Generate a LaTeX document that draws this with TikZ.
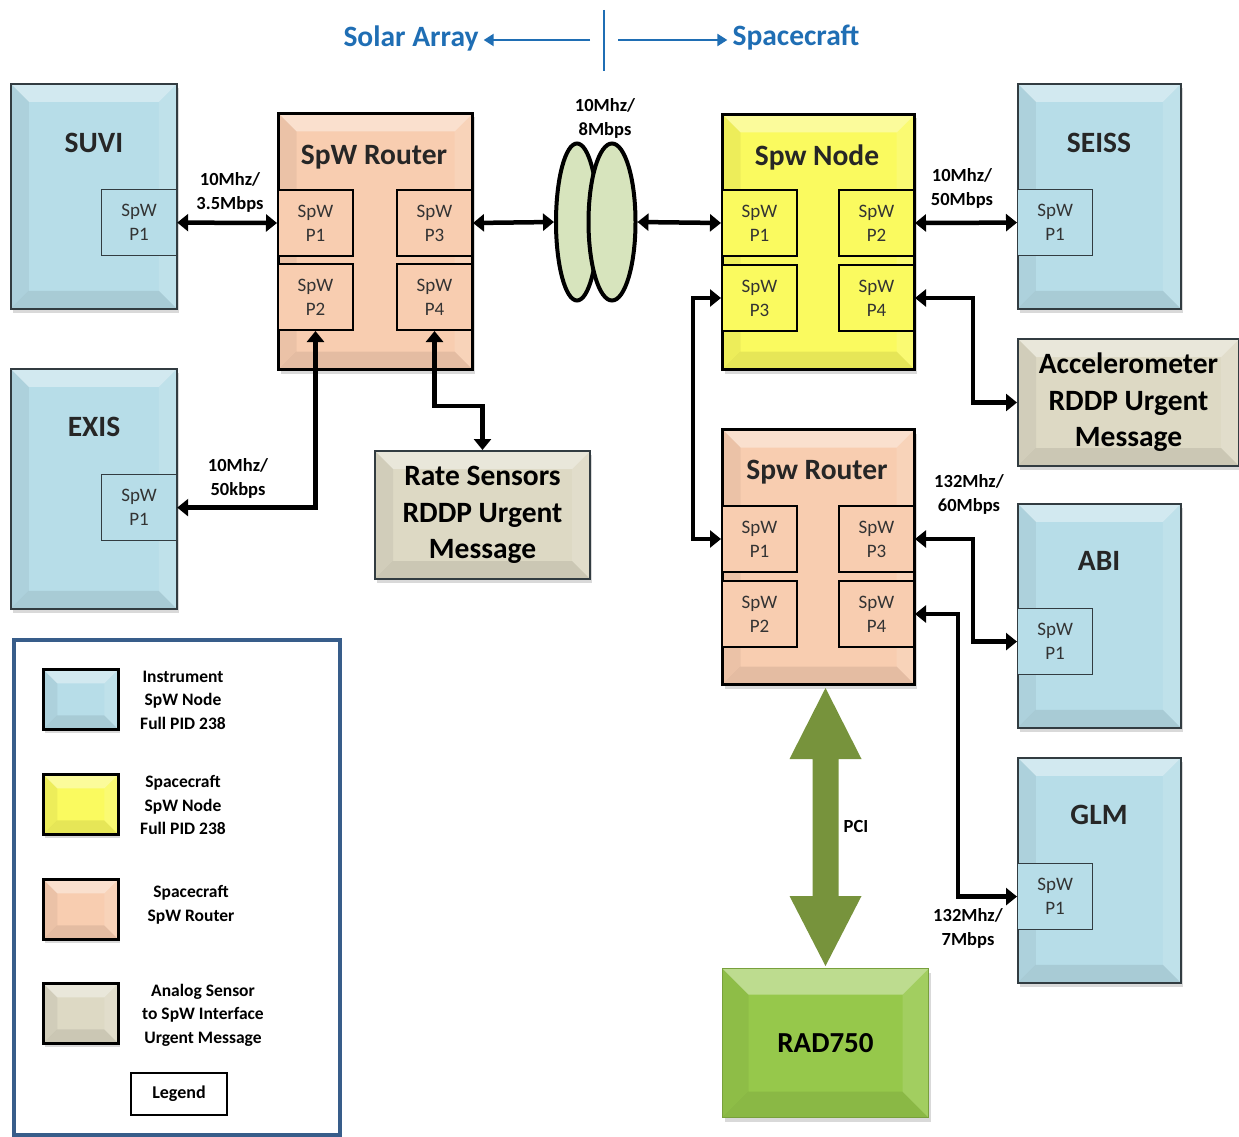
\documentclass[tikz,border=0pt]{standalone}
\usepackage{fontspec}
\setmainfont{Carlito}
\usetikzlibrary{arrows.meta,shapes.geometric,shadows}
\definecolor{instblue}{RGB}{183,221,232}
\definecolor{scyellow}{RGB}{250,250,95}
\definecolor{peach}{RGB}{248,205,176}
\definecolor{tan}{RGB}{221,217,196}
\definecolor{radgreen}{RGB}{150,200,75}
\definecolor{pcigreen}{RGB}{119,147,60}
\definecolor{ringfill}{RGB}{215,228,189}
\definecolor{hdrblue}{RGB}{31,110,180}
\definecolor{legborder}{RGB}{56,93,138}
\definecolor{edgegray}{RGB}{50,60,65}
\tikzset{
  bevel/.style={path picture={
    \path (path picture bounding box.north west) coordinate (pNW)
          (path picture bounding box.north east) coordinate (pNE)
          (path picture bounding box.south west) coordinate (pSW)
          (path picture bounding box.south east) coordinate (pSE);
    \fill[white,opacity=.38] (pNW) -- (pNE) -- ([shift={(-#1,-#1)}]pNE) -- ([shift={(#1,-#1)}]pNW) -- cycle;
    \fill[black,opacity=.08] (pSW) -- (pSE) -- ([shift={(-#1,#1)}]pSE) -- ([shift={(#1,#1)}]pSW) -- cycle;
    \fill[black,opacity=.05] (pNW) -- ([shift={(#1,-#1)}]pNW) -- ([shift={(#1,#1)}]pSW) -- (pSW) -- cycle;
    \fill[white,opacity=.12] (pNE) -- ([shift={(-#1,-#1)}]pNE) -- ([shift={(-#1,#1)}]pSE) -- (pSE) -- cycle;
  }},
  bevel/.default=18pt,
  boxbase/.style={rectangle, inner sep=0pt, anchor=north west, align=center,
    drop shadow={shadow xshift=2pt,shadow yshift=-4pt,opacity=.3}},
  instr/.style={boxbase, bevel, fill=instblue, draw=edgegray, line width=1.6pt, minimum width=166pt, minimum height=225pt},
  router/.style={boxbase, bevel, fill=peach, draw=black, line width=3pt, minimum width=194pt, minimum height=256pt},
  scnode/.style={boxbase, bevel, fill=scyellow, draw=black, line width=3pt, minimum width=192pt, minimum height=255pt},
  sensor/.style={boxbase, bevel, fill=tan, draw=edgegray, line width=2pt, font=\bfseries\fontsize{29.5}{36.5}\selectfont},
  ibport/.style={rectangle, inner sep=0pt, anchor=north west, align=center, fill=instblue, draw=edgegray, line width=1.2pt,
    minimum width=75pt, minimum height=66pt, font=\fontsize{19}{24}\selectfont, text=black!80},
  rport/.style={ibport, fill=#1, draw=black, line width=2pt},
  title/.style={font=\bfseries\fontsize{29.5}{34}\selectfont, text=black!85},
  rate/.style={font=\bfseries\fontsize{18.5}{24}\selectfont, align=center, inner sep=0pt},
  conn/.style={line width=4.5pt, {Triangle[width=17pt,length=11pt]}-{Triangle[width=17pt,length=11pt]}},
  ring/.style={ellipse, draw=black, line width=4pt, fill=ringfill, inner sep=0pt},
  hdr/.style={font=\bfseries\fontsize{29.5}{32}\selectfont, text=hdrblue, inner sep=2pt},
  hdrline/.style={draw=hdrblue, line width=2.2pt},
  swatch/.style={rectangle, inner sep=0pt, anchor=north west, bevel=14pt, draw=black, line width=2.5pt,
    minimum width=75pt, minimum height=60pt, drop shadow={shadow xshift=2pt,shadow yshift=-4pt,opacity=.3}},
  legtext/.style={font=\bfseries\fontsize{17.5}{23.5}\selectfont, align=center, inner sep=0pt},
}
\begin{document}
\begin{tikzpicture}[x=1pt,y=-1pt]
\useasboundingbox (0,0) rectangle (1239,1137);

% ---------- header ----------
\node[hdr] (solar) at (411,38) {Solar Array};
\node[hdr] (space) at (796,38) {Spacecraft};
\coordinate (divtop) at (604,10);
\coordinate (divbot) at (604,71);
\coordinate (dl) at (590,40);
\coordinate (dr) at (618,40);
\draw[hdrline] (divtop) -- (divbot);
\draw[hdrline,-{Triangle[width=12pt,length=10pt]}] (dl) -- ([xshift=3pt]dl -| solar.east);
\draw[hdrline,-{Triangle[width=12pt,length=10pt]}] (dr) -- ([xshift=-3pt]dr -| space.west);

% ---------- instruments ----------
\node[instr] (suvi) at (10,83) {};
\node[title] (suvit) at (94,143) {SUVI};
\node[ibport] (suvip1) at (101,189) {SpW\\P1};

\node[instr, minimum height=240pt] (exis) at (10,368) {};
\node[title] (exist) at (94,427) {EXIS};
\node[ibport] (exisp1) at (101,474) {SpW\\P1};

\node[instr, minimum width=163pt] (seiss) at (1017,83) {};
\node[title] (seisst) at (1099,143) {SEISS};
\node[ibport] (seissp1) at (1017,189) {SpW\\P1};

\node[instr, minimum width=163pt, minimum height=224pt] (abi) at (1017,503) {};
\node[title] (abit) at (1099,561) {ABI};
\node[ibport] (abip1) at (1017,608) {SpW\\P1};

\node[instr, minimum width=163pt] (glm) at (1017,757) {};
\node[title] (glmt) at (1099,815) {GLM};
\node[ibport] (glmp1) at (1017,863) {SpW\\P1};

% ---------- left router ----------
\node[router] (lr) at (277,112) {};
\node[title] (lrt) at (374,157) {SpW Router};
\node[rport=peach] (lrp1) at (277,189) {SpW\\P1};
\node[rport=peach] (lrp3) at (396,189) {SpW\\P3};
\node[rport=peach] (lrp2) at (277,263) {SpW\\P2};
\node[rport=peach] (lrp4) at (396,263) {SpW\\P4};

% ---------- spacecraft node ----------
\node[scnode] (nd) at (721,113) {};
\node[title] (ndt) at (817,157) {Spw Node};
\node[rport=scyellow] (ndp1) at (721,189) {SpW\\P1};
\node[rport=scyellow] (ndp2) at (838,189) {SpW\\P2};
\node[rport=scyellow] (ndp3) at (721,264) {SpW\\P3};
\node[rport=scyellow] (ndp4) at (838,264) {SpW\\P4};

% ---------- right router ----------
\node[router, minimum width=192pt, minimum height=255pt] (rr) at (721,428) {};
\node[title] (rrt) at (817,472) {Spw Router};
\node[rport=peach] (rrp1) at (721,505) {SpW\\P1};
\node[rport=peach] (rrp3) at (838,505) {SpW\\P3};
\node[rport=peach] (rrp2) at (721,580) {SpW\\P2};
\node[rport=peach] (rrp4) at (838,580) {SpW\\P4};

% ---------- sensors ----------
\node[sensor, minimum width=215pt, minimum height=128pt] (ratesens) at (374,450) {Rate Sensors\\RDDP Urgent\\Message};
\node[sensor, minimum width=221pt, minimum height=127pt] (accel) at (1017,338) {Accelerometer\\RDDP Urgent\\Message};

% ---------- RAD750 ----------
\node[boxbase, bevel=26pt, fill=radgreen, draw=radgreen!80!black, line width=1pt,
      minimum width=206pt, minimum height=149pt, font=\bfseries\fontsize{29}{34}\selectfont] (rad) at (722,968) {RAD750};

% ---------- rings ----------
\node[ring, minimum width=42pt, minimum height=157pt] (ringL) at (577,222) {};
\node[ring, minimum width=47pt, minimum height=157pt] (ringR) at (612,222) {};
\node[rate] (ringlbl) at (605,118) {10Mhz/\\8Mbps};

% ---------- connectors ----------
\draw[conn] (suvip1.east) -- (lrp1.west);
\node[rate] at (230,192) {10Mhz/\\3.5Mbps};

\draw[conn] (lrp3.east) -- (ringL.west);
\draw[conn] (ringR.east) -- (ndp1.west);

\draw[conn] (ndp2.east) -- (seissp1.west);
\node[rate] at (962,188) {10Mhz/\\50Mbps};

\coordinate (jacc) at (973,330);
\draw[conn] (ndp4.east) -- (ndp4.east -| jacc) -- (jacc |- accel.west) -- (accel.west);

\coordinate (jnr) at (693,400);
\draw[conn] (ndp3.west) -- (ndp3.west -| jnr) -- (jnr |- rrp1.west) -- (rrp1.west);

\coordinate (jabi) at (973,600);
\draw[conn] (rrp3.east) -- (rrp3.east -| jabi) -- (jabi |- abip1.west) -- (abip1.west);
\node[rate] at (969,494) {132Mhz/\\60Mbps};

\coordinate (jglm) at (958,700);
\draw[conn] (rrp4.east) -- (rrp4.east -| jglm) -- (jglm |- glmp1.west) -- (glmp1.west);
\node[rate] at (968,928) {132Mhz/\\7Mbps};

\draw[conn] (lrp2.south) |- (exisp1.east);
\node[rate] at (238,478) {10Mhz/\\50kbps};

\coordinate (jrate) at (458,406);
\draw[conn] (lrp4.south) |- (jrate) -| (ratesens.north);

% ---------- PCI arrow ----------
\coordinate (ptop) at ([yshift=-2pt]rr.south -| rad.north);
\coordinate (pbot) at ([yshift=2pt]rad.north);
\fill[pcigreen] (ptop) -- ([shift={(36pt,-71pt)}]ptop) -- ([shift={(13pt,-71pt)}]ptop)
  -- ([shift={(13pt,70pt)}]pbot) -- ([shift={(36pt,70pt)}]pbot) -- (pbot)
  -- ([shift={(-36pt,70pt)}]pbot) -- ([shift={(-13pt,70pt)}]pbot)
  -- ([shift={(-13pt,-71pt)}]ptop) -- ([shift={(-36pt,-71pt)}]ptop) -- cycle;
\node[rate] (pci) at (856,826) {PCI};

% ---------- legend ----------
\node[rectangle, anchor=north west, draw=legborder, line width=4pt, minimum width=326pt, minimum height=495pt] (legbox) at (12,638) {};
\node[swatch, fill=instblue] (sw1) at (42,668) {};
\node[legtext] (lt1) at (183,700) {Instrument\\SpW Node\\Full PID 238};
\node[swatch, fill=scyellow] (sw2) at (42,773) {};
\node[legtext] (lt2) at (183,805) {Spacecraft\\SpW Node\\Full PID 238};
\node[swatch, fill=peach] (sw3) at (42,878) {};
\node[legtext] (lt3) at (191,905) {Spacecraft\\SpW Router};
\node[swatch, fill=tan] (sw4) at (42,982) {};
\node[legtext] (lt4) at (203,1015) {Analog Sensor\\to SpW Interface\\Urgent Message};
\node[rectangle, draw=black, line width=2.5pt, minimum width=96pt, minimum height=42pt, inner sep=0pt,
      font=\bfseries\fontsize{18}{22}\selectfont] (legend) at (179,1094) {Legend};
\end{tikzpicture}
\end{document}
